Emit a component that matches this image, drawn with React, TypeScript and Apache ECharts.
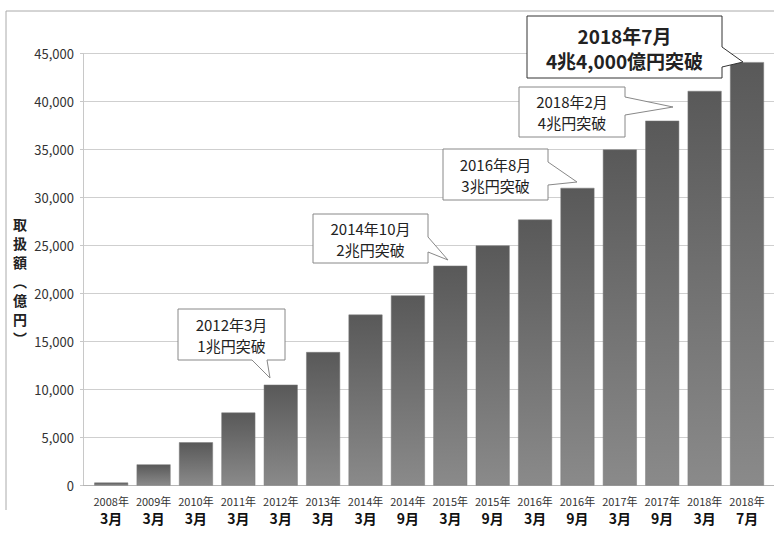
import React, { useEffect, useRef } from "react";
import * as echarts from "echarts";

const years = ["2008", "2009", "2010", "2011", "2012", "2013", "2014", "2014", "2015", "2015", "2016", "2016", "2017", "2017", "2018", "2018"];
const months = ["3", "3", "3", "3", "3", "3", "3", "9", "3", "9", "3", "9", "3", "9", "3", "7"];
const values = [300, 2200, 4500, 7600, 10500, 13900, 17800, 19800, 22900, 25000, 27700, 31000, 35000, 38000, 41100, 44100];
const categories = years.map((y, i) => `${y}年${months[i]}月`);
const yTicks = { min: 0, max: 45000, interval: 5000 };
const yTitle = "取\n扱\n額\n︵\n億\n円\n︶";

const callouts = [
  { text: "2012年3月\n1兆円突破", cx: 231.5, cy: 334.5, size: 15, bold: false, stroke: "#888",
    pts: [[178, 309], [285, 309], [285, 360], [267, 360], [270, 378], [252, 360], [178, 360]] },
  { text: "2014年10月\n2兆円突破", cx: 370.5, cy: 238.5, size: 15, bold: false, stroke: "#888",
    pts: [[313, 214], [428, 214], [428, 237], [448, 260], [428, 252], [428, 263], [313, 263]] },
  { text: "2016年8月\n3兆円突破", cx: 495.5, cy: 174.5, size: 15, bold: false, stroke: "#888",
    pts: [[443, 149], [548, 149], [548, 162], [577, 182], [548, 185], [548, 200], [443, 200]] },
  { text: "2018年2月\n4兆円突破", cx: 572, cy: 112, size: 15, bold: false, stroke: "#888",
    pts: [[519, 87], [625, 87], [625, 97], [673, 107], [625, 115], [625, 137], [519, 137]] },
  { text: "2018年7月\n4兆4,000億円突破", cx: 624.5, cy: 47.5, size: 19, bold: true, stroke: "#333",
    pts: [[527, 16], [722, 16], [722, 47], [743, 62], [722, 67], [722, 78], [527, 78]] },
];

const FONT = '"Noto Sans CJK JP", "Noto Sans", sans-serif';

export default function App() {
  const ref = useRef<HTMLDivElement>(null);
  useEffect(() => {
    if (!ref.current) return;
    const chart = echarts.init(ref.current, null, { renderer: "svg" });
    const top = 53.5;
    const bottom = 535 - 485.5;
    const graphics: any[] = [
      { type: "line", shape: { x1: 6, y1: 11, x2: 774, y2: 11 }, style: { stroke: "#aaa", lineWidth: 1 }, z: 0 },
      { type: "line", shape: { x1: 6, y1: 11, x2: 6, y2: 510 }, style: { stroke: "#aaa", lineWidth: 1 }, z: 0 },
      {
        type: "text", x: 20, y: 281,
        style: { text: yTitle, fontSize: 14, fontWeight: "bold", fontFamily: FONT, fill: "#222", align: "center", verticalAlign: "middle", lineHeight: 19 },
      },
    ];
    callouts.forEach((c) => {
      graphics.push({
        type: "polygon", shape: { points: c.pts }, z: 10,
        style: { fill: "#fff", stroke: c.stroke, lineWidth: 1 },
      });
      graphics.push({
        type: "text", x: c.cx, y: c.cy, z: 11,
        style: {
          text: c.text, fontSize: c.size, fontWeight: c.bold ? "bold" : "normal", fontFamily: FONT,
          fill: "#222", align: "center", verticalAlign: "middle", lineHeight: c.bold ? 25 : 21,
        },
      });
    });
    chart.setOption({
      animation: false,
      backgroundColor: "#fff",
      grid: [
        { left: 83, right: 0, top, bottom },
        { left: 90, right: 5.8, top, bottom },
      ],
      xAxis: [
        { type: "value", gridIndex: 0, min: 0, max: 1, show: true, axisLabel: { show: false }, splitLine: { show: false }, axisTick: { show: false }, axisLine: { show: true, lineStyle: { color: "#b5b5b5" } } },
        {
          type: "category", gridIndex: 1, data: categories,
          axisLine: { show: false }, axisTick: { show: false },
          axisLabel: {
            interval: 0, margin: 7,
            formatter: (v: string) => {
              const [y, m] = v.split("年");
              return `{a|${y}年}\n{b|${m}}`;
            },
            rich: {
              a: { fontSize: 11, fontFamily: FONT, color: "#333", lineHeight: 16 },
              b: { fontSize: 14, fontWeight: "bold", fontFamily: FONT, color: "#111", lineHeight: 19 },
            },
          },
        },
      ],
      yAxis: [
        {
          type: "value", gridIndex: 0, ...yTicks,
          axisLine: { show: true, lineStyle: { color: "#c8c8c8" } },
          axisTick: { show: true, length: 3, lineStyle: { color: "#c8c8c8" } },
          splitLine: { show: true, lineStyle: { color: "#cfcfcf" } },
          axisLabel: {
            margin: 9, fontSize: 13, fontFamily: FONT, color: "#333",
            formatter: (v: number) => v.toLocaleString("en-US"),
          },
        },
        { type: "value", gridIndex: 1, ...yTicks, show: false, splitLine: { show: false } },
      ],
      series: [
        {
          type: "bar", xAxisIndex: 1, yAxisIndex: 1, data: values, barWidth: "80%", z: 5,
          itemStyle: {
            color: new echarts.graphic.LinearGradient(0, 0, 0, 1, [
              { offset: 0, color: "#595959" },
              { offset: 1, color: "#8a8a8a" },
            ]),
            borderColor: "#7a7a7a", borderWidth: 0.5,
          },
        },
      ],
      graphic: graphics,
    });
    return () => chart.dispose();
  }, []);
  return <div ref={ref} style={{ position: "fixed", left: 0, top: 0, width: 774, height: 535 }} />;
}
